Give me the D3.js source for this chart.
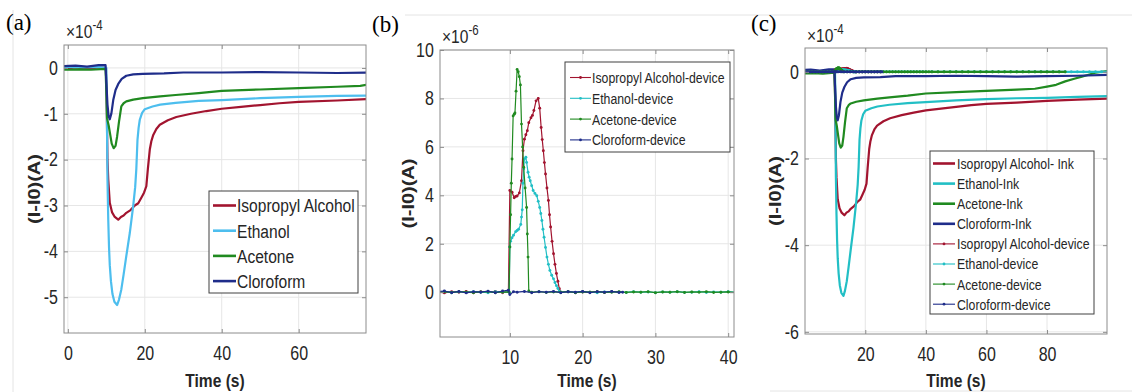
<!DOCTYPE html>
<html>
<head>
<meta charset="utf-8">
<script src="https://cdn.jsdelivr.net/npm/d3@7"></script>
<style>
  body { margin: 0; background: #fff; }
  svg { display: block; font-family: "Liberation Sans", Arial, sans-serif; }
</style>
</head>
<body>
<svg id="fig" width="1132" height="392"></svg>
<script>
// ---- data (time in s, current in units of the axis exponent) ----

// ink responses, x1e-4 A
const ipaInk = [[-1,-0.02],[2,0.01],[5,-0.02],[8,0.01],[9.9,0],[10.1,-0.8],[10.3,-2.0],[10.5,-2.43],[10.9,-2.94],[11.5,-3.15],[12.2,-3.25],[13.1,-3.31],[13.8,-3.25],[14.5,-3.22],[15.2,-3.16],[16.3,-3.1],[17.4,-3.0],[18.3,-2.95],[19.1,-2.83],[19.8,-2.72],[20.4,-2.58],[20.8,-2.2],[21.3,-1.78],[21.7,-1.6],[22.2,-1.46],[23,-1.33],[23.9,-1.24],[26,-1.14],[28.2,-1.07],[32,-1.0],[36,-0.94],[40,-0.89],[45,-0.85],[50,-0.81],[55,-0.77],[60,-0.74],[70,-0.71],[80,-0.67],[90,-0.64],[100,-0.62]];
const ethInk = [[-1,0.02],[4,0.01],[8,0.02],[10,0],[10.1,-0.5],[10.2,-1.5],[10.3,-2.43],[10.5,-3.3],[10.7,-3.9],[10.9,-4.3],[11.2,-4.65],[11.6,-4.93],[12.1,-5.1],[12.8,-5.17],[13.3,-5.05],[13.9,-4.83],[14.5,-4.5],[15.2,-4.1],[16.1,-3.6],[17.0,-3.0],[17.5,-2.6],[17.8,-2.2],[18.1,-1.57],[18.4,-1.3],[18.7,-1.13],[19.3,-0.98],[20,-0.9],[22,-0.84],[24,-0.8],[28,-0.76],[34,-0.72],[40,-0.7],[50,-0.66],[60,-0.63],[70,-0.61],[80,-0.6],[90,-0.58],[100,-0.56]];
const aceInk = [[-1,-0.04],[3,-0.03],[6,-0.04],[9.8,-0.02],[10.0,-0.5],[10.2,-1.1],[10.6,-1.25],[11.0,-1.45],[11.4,-1.65],[11.9,-1.75],[12.4,-1.7],[12.8,-1.5],[13.3,-1.17],[13.9,-0.84],[14.5,-0.77],[15.2,-0.73],[17,-0.69],[19.5,-0.66],[24,-0.62],[28,-0.59],[34,-0.55],[40,-0.5],[50,-0.47],[60,-0.44],[70,-0.41],[76,-0.39],[80,-0.34],[83,-0.3],[86,-0.22],[89,-0.16],[91.5,-0.11],[94,-0.06],[96,-0.02],[100,0.02]];
const chlInk = [[-1,0.04],[2,0.05],[5,0.03],[8,0.06],[9.8,0.06],[10.0,-0.3],[10.3,-0.8],[10.6,-1.05],[10.9,-1.12],[11.3,-1.0],[11.8,-0.7],[12.4,-0.48],[13.1,-0.35],[14,-0.24],[15.2,-0.17],[17,-0.14],[19.5,-0.13],[25,-0.12],[30,-0.1],[40,-0.1],[50,-0.09],[60,-0.1],[70,-0.11],[80,-0.1],[90,-0.09],[100,-0.07]];

// device responses, x1e-6 A
const ipaDev = [[0,0.02],[1,-0.03],[2,0.02],[3,0],[4,0.03],[5,-0.02],[6,0.02],[7,0],[8,0.03],[9,-0.02],[9.8,0.02],[10,4.2],[10.3,4.13],[10.6,3.9],[10.8,3.95],[11.0,3.97],[11.3,4.1],[11.6,4.6],[11.8,5.84],[12.0,6.32],[12.2,6.5],[12.4,6.67],[12.6,7.0],[12.9,7.2],[13.1,7.3],[13.3,7.5],[13.6,7.9],[13.9,8.0],[14.1,7.6],[14.3,6.8],[14.45,6.3],[14.6,5.84],[14.75,5.35],[14.9,4.88],[15.1,4.3],[15.3,3.79],[15.45,3.2],[15.6,2.69],[15.8,2.1],[16.0,1.59],[16.2,1.15],[16.4,0.77],[16.6,0.45],[16.8,0.14],[17,0],[18,0.02],[19,-0.02],[20,0.01],[21,0],[22,0.02],[23,-0.01],[24,0.02],[25,0]];
const ethDev = [[0,0.01],[1,0.03],[2,-0.02],[3,0.02],[4,-0.01],[5,0.02],[6,0],[7,-0.02],[8,0.02],[9,0.01],[9.9,0],[10,1.87],[10.1,2.1],[10.3,2.25],[10.5,2.35],[10.8,2.5],[11.0,2.55],[11.2,2.6],[11.5,2.8],[11.6,3.1],[11.7,3.4],[11.8,4.5],[11.9,5.1],[12.0,5.5],[12.2,5.57],[12.3,5.36],[12.5,4.95],[12.65,4.75],[12.8,4.6],[13.0,4.4],[13.2,4.2],[13.45,4.08],[13.7,3.98],[13.9,3.75],[14.1,3.5],[14.25,3.25],[14.4,2.96],[14.55,2.6],[14.7,2.27],[14.9,1.85],[15.1,1.45],[15.3,1.15],[15.5,0.9],[15.75,0.7],[16.0,0.55],[16.2,0.4],[16.4,0.27],[16.6,0.15],[16.8,0.04],[17,0],[18,0.02],[19,-0.01],[20,0.02],[21,0],[22,-0.02],[23,0.01],[24,0.02],[25,0],[26,-0.01],[27,0.02],[28,0],[29,0.01],[30,-0.02],[31,0.01],[32,0],[33,0.02],[34,-0.01],[35,0],[36,0.02],[37,-0.01],[38,0.01],[39,0],[40,0.02],[42,-0.01],[44,0.01],[46,0],[48,0.02],[50,-0.01],[52,0.01],[54,0],[56,0.02],[58,-0.01],[60,0],[62,0.01],[64,-0.01],[66,0.02],[68,0],[70,0.01],[72,-0.01],[74,0],[76,0.02],[78,0],[80,-0.01],[82,0.01],[84,0],[86,0.02],[88,-0.01],[90,0],[92,0.01],[94,-0.01],[96,0.02],[98,0],[100,0.01]];
const aceDev = [[0,-0.02],[1,0.02],[2,-0.01],[3,0.02],[4,0],[5,-0.02],[6,0.01],[7,0.02],[8,-0.02],[9,0.01],[9.9,0],[10.0,1.87],[10.1,3.2],[10.2,4.5],[10.3,5.5],[10.45,7.28],[10.6,7.35],[10.7,7.4],[10.85,8.3],[11.0,9.2],[11.15,9.1],[11.3,8.9],[11.45,8.56],[11.6,6.94],[11.75,6.0],[11.9,5.16],[12.1,4.3],[12.3,3.5],[12.4,2.4],[12.5,1.45],[12.6,0.05],[13,0],[14,0.02],[15,-0.01],[16,0.01],[17,0],[18,0.02],[19,-0.02],[20,0.01],[21,0],[22,0.02],[23,-0.01],[24,0],[25,0.02],[26,-0.01],[27,0.01],[28,0],[29,0.02],[30,-0.02],[31,0.01],[32,0],[33,0.02],[34,-0.01],[35,0.01],[36,0],[37,0.02],[38,-0.01],[39,0],[40,0.01],[41,-0.01],[42,0.01],[44,0],[46,0.02],[48,-0.01],[50,0],[52,0.01],[54,-0.01],[56,0.02],[58,0],[60,0.01],[62,-0.01],[64,0],[66,0.02],[68,-0.01],[70,0],[72,0.01],[74,0],[76,-0.01],[78,0.02],[80,0],[82,0.01],[84,-0.01],[86,0]];
const chlDev = [[0,0.02],[1,0.05],[2,-0.02],[3,0.03],[4,-0.03],[5,0.02],[6,0],[7,0.04],[8,-0.02],[9,0.05],[9.8,0.08],[10,-0.1],[10.5,0.02],[11,0],[12,0.03],[13,-0.02],[14,0.02],[15,0],[16,0.03],[17,-0.02],[18,0.02],[19,0],[20,0.03],[21,-0.02],[22,0.02],[23,0],[24,0.03],[25,-0.01],[25.5,0]];

const inkSeries = [ipaInk, ethInk, aceInk, chlInk];
const devSeries = [ipaDev, ethDev, aceDev, chlDev];
const namesA = ['Isopropyl Alcohol', 'Ethanol', 'Acetone', 'Cloroform'];
const namesInkC = ['Isopropyl Alcohol- Ink', 'Ethanol-Ink', 'Acetone-Ink', 'Cloroform-Ink'];
const namesDev = ['Isopropyl Alcohol-device', 'Ethanol-device', 'Acetone-device', 'Cloroform-device'];

const xTicksA = [0, 20, 40, 60];
const yTicksA = [0, -1, -2, -3, -4, -5];
const xTicksB = [10, 20, 30, 40];
const yTicksB = [0, 2, 4, 6, 8, 10];
const xTicksC = [20, 40, 60, 80];
const yTicksC = [0, -2, -4, -6];

// ---- styling ----
const colorsA = ['#a2142f', '#4dbeee', '#208a20', '#1f2d8a'];
const colorsC = ['#a2142f', '#22bfc5', '#208a20', '#1f2d8a'];
const axisColor = '#8c8c8c';
const gridColor = '#e6e6e6';
const textColor = '#262626';
const SX = 0.82; // the source figure is squeezed horizontally

const svg = d3.select('#fig');

// faint frame lines of the original figure
svg.append('line').attr('x1', 13).attr('x2', 13).attr('y1', 10).attr('y2', 392).attr('stroke', '#e4e4e4');
svg.append('line').attr('x1', 405).attr('x2', 1132).attr('y1', 15).attr('y2', 15).attr('stroke', '#e4e4e4');
svg.append('line').attr('x1', 770).attr('x2', 1132).attr('y1', 391).attr('y2', 391).attr('stroke', '#e4e4e4');

function addText(x, y, str, o = {}) {
  const t = svg.append('text')
    .attr('transform', `translate(${x},${y}) scale(${o.sx ?? SX},1)` + (o.rotate ? ` rotate(${o.rotate})` : ''))
    .attr('text-anchor', o.anchor || 'start')
    .attr('font-size', o.size || 18)
    .attr('font-weight', o.weight || 'normal')
    .attr('fill', o.fill || textColor)
    .text(str);
  if (o.family) t.attr('font-family', o.family);
  return t;
}

function panel(p) {
  const w = p.x1 - p.x0, h = p.y1 - p.y0;
  const g = svg.append('g').attr('transform', `translate(${p.x0},${p.y0})`);
  const x = d3.scaleLinear().domain(p.xDomain).range([0, w]);
  const y = d3.scaleLinear().domain(p.yDomain).range([h, 0]);

  // grid
  g.append('g').selectAll('line').data(p.xTicks).join('line')
    .attr('x1', d => x(d)).attr('x2', d => x(d)).attr('y1', 0).attr('y2', h)
    .attr('stroke', gridColor);
  g.append('g').selectAll('line').data(p.yTicks).join('line')
    .attr('x1', 0).attr('x2', w).attr('y1', d => y(d)).attr('y2', d => y(d))
    .attr('stroke', gridColor);

  g.append('clipPath').attr('id', 'clip-' + p.id)
    .append('rect').attr('width', w).attr('height', h);
  const plot = g.append('g').attr('clip-path', `url(#clip-${p.id})`);

  return { g, x, y, w, h, plot };
}

function axes(P, p) {
  const { g, x, y, w, h } = P;
  const fmt = d => String(d);
  const none = () => '';
  const list = [
    g.append('g').attr('transform', `translate(0,${h})`)
      .call(d3.axisBottom(x).tickValues(p.xTicks).tickFormat(fmt).tickSize(-4).tickSizeOuter(0).tickPadding(13.5)),
    g.append('g')
      .call(d3.axisLeft(y).tickValues(p.yTicks).tickFormat(fmt).tickSize(-4).tickSizeOuter(0).tickPadding(7.5)),
    g.append('g')
      .call(d3.axisTop(x).tickValues(p.xTicks).tickFormat(none).tickSize(-4).tickSizeOuter(0)),
    g.append('g').attr('transform', `translate(${w},0)`)
      .call(d3.axisRight(y).tickValues(p.yTicks).tickFormat(none).tickSize(-4).tickSizeOuter(0))
  ];
  list.forEach(a => {
    a.attr('font-family', null).attr('font-size', null);
    a.select('.domain').remove();
    a.selectAll('.tick line').attr('stroke', axisColor);
    a.selectAll('.tick text')
      .attr('fill', textColor)
      .attr('font-size', 19.5)
      .attr('transform', `scale(${SX},1)`);
  });
  g.append('rect').attr('width', w).attr('height', h)
    .attr('fill', 'none').attr('stroke', axisColor);

  // exponent
  const ex = svg.append('text')
    .attr('transform', `translate(${p.x0 + 2},${p.expY}) scale(${SX},1)`)
    .attr('font-size', 19).attr('fill', textColor);
  ex.append('tspan').text('\u00d710');
  ex.append('tspan').attr('dy', -8).attr('font-size', 14).text(p.exp);

  // axis titles
  addText((p.x0 + p.x1) / 2, 387, 'Time (s)', { anchor: 'middle', size: 19, weight: 'bold' });
  addText(p.yLabelX, (p.y0 + p.y1) / 2, '(I-I0)(A)', { anchor: 'middle', size: 20, weight: 'bold', rotate: -90 });

  // panel tag
  addText(p.tagX, p.tagY, p.tag, { sx: 1, size: 23, family: '"Liberation Serif", "Times New Roman", serif', fill: '#000' });
}

function drawInk(P, data, color) {
  const line = d3.line().x(d => P.x(d[0])).y(d => P.y(d[1]));
  P.plot.append('path').datum(data)
    .attr('d', line).attr('fill', 'none')
    .attr('stroke', color).attr('stroke-width', 2.2)
    .attr('stroke-linejoin', 'round');
}

function drawDevice(P, data, color, k, lw, r) {
  const line = d3.line().x(d => P.x(d[0])).y(d => P.y(d[1] * k));
  const s = P.plot.append('g');
  s.append('path').datum(data)
    .attr('d', line).attr('fill', 'none')
    .attr('stroke', color).attr('stroke-width', lw);
  s.selectAll('circle').data(data).join('circle')
    .attr('cx', d => P.x(d[0])).attr('cy', d => P.y(d[1] * k))
    .attr('r', r).attr('fill', color);
}

function legend(l) {
  const g = svg.append('g');
  g.append('rect').attr('x', l.x0).attr('y', l.y0)
    .attr('width', l.x1 - l.x0).attr('height', l.y1 - l.y0)
    .attr('fill', '#fff').attr('stroke', '#404040').attr('stroke-width', 1);
  l.items.forEach((it, i) => {
    const cy = l.rowY0 + i * l.rowDy;
    g.append('line').attr('x1', l.lx0).attr('x2', l.lx1).attr('y1', cy).attr('y2', cy)
      .attr('stroke', it.color).attr('stroke-width', it.marker ? 1.1 : 2.6);
    if (it.marker) {
      g.append('circle').attr('cx', (l.lx0 + l.lx1) / 2).attr('cy', cy).attr('r', 1.4).attr('fill', it.color);
    }
    addText(l.tx, cy + l.size * 0.36, it.name, { size: l.size });
  });
}

// ---- panel (a) ----
const pa = { id: 'a', x0: 64, x1: 366, y0: 45, y1: 333, xDomain: [-1, 77.5], yDomain: [-5.78, 0.5],
  xTicks: xTicksA, yTicks: yTicksA, exp: '-4', expY: 38, yLabelX: 40, tag: '(a)', tagX: 6, tagY: 30 };
const PA = panel(pa);
inkSeries.forEach((s, i) => drawInk(PA, s, colorsA[i]));
axes(PA, pa);
legend({ x0: 209, x1: 358, y0: 191, y1: 293, rowY0: 205.5, rowDy: 25.2, lx0: 213, lx1: 236, tx: 237, size: 19,
  items: namesA.map((n, i) => ({ name: n, color: colorsA[i] })) });

// ---- panel (b) ----
const pb = { id: 'b', x0: 440, x1: 734, y0: 50, y1: 337, xDomain: [0.4, 40.8], yDomain: [-1.85, 10],
  xTicks: xTicksB, yTicks: yTicksB, exp: '-6', expY: 43, yLabelX: 414, tag: '(b)', tagX: 372, tagY: 32 };
const PB = panel(pb);
devSeries.forEach((s, i) => drawDevice(PB, s, colorsC[i], 1, 1.2, 1.45));
axes(PB, pb);
legend({ x0: 565, x1: 730, y0: 62, y1: 152, rowY0: 77.5, rowDy: 20.8, lx0: 570, lx1: 591, tx: 592, size: 15,
  items: namesDev.map((n, i) => ({ name: n, color: colorsC[i], marker: true })) });

// ---- panel (c) ----
const pc = { id: 'c', x0: 805, x1: 1107, y0: 48, y1: 334, xDomain: [0.1, 99.8], yDomain: [-6.05, 0.55],
  xTicks: xTicksC, yTicks: yTicksC, exp: '-4', expY: 42, yLabelX: 781, tag: '(c)', tagX: 751, tagY: 31 };
const PC = panel(pc);
inkSeries.forEach((s, i) => drawInk(PC, s, colorsC[i]));
devSeries.forEach((s, i) => drawDevice(PC, s, colorsC[i], 0.01, 2.4, 1.5));
axes(PC, pc);
legend({ x0: 930, x1: 1094, y0: 151, y1: 314, rowY0: 163.5, rowDy: 20.1, lx0: 933, lx1: 955, tx: 957, size: 15,
  items: namesInkC.map((n, i) => ({ name: n, color: colorsC[i] }))
    .concat(namesDev.map((n, i) => ({ name: n, color: colorsC[i], marker: true }))) });
</script>
</body>
</html>
